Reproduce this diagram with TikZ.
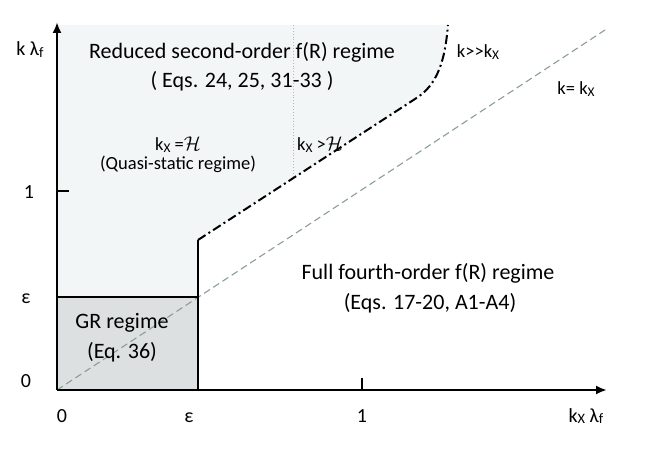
\documentclass[tikz,border=0pt]{standalone}
\usepackage{fontspec}
\setmainfont{Carlito}
\usetikzlibrary{arrows.meta}
\definecolor{lightfill}{RGB}{243,246,247}
\definecolor{grfill}{RGB}{220,224,224}
\definecolor{diaggray}{RGB}{140,156,156}
\newcommand\kxsub{k\raisebox{-0.18ex}{\scalebox{0.72}{X}}}
\newcommand\lamf{λ\raisebox{-0.18ex}{\scalebox{0.72}{f}}}
\newcommand\calH{\scalebox{1.15}{$\mathcal{H}$}}
\begin{document}
\begin{tikzpicture}[x=1pt,y=-1pt,
  axisline/.style={line width=2.2pt},
  bigtext/.style={font=\fontsize{22}{24}\selectfont, inner sep=0pt},
  midtext/.style={font=\fontsize{20}{22}\selectfont, inner sep=0pt, anchor=base},
  smalltext/.style={font=\fontsize{18.5}{20}\selectfont, inner sep=0pt},
  boundary/.style={line width=2pt, dash pattern=on 9pt off 3.5pt on 2pt off 3.5pt},
]
\useasboundingbox (0,0) rectangle (664,449);
% regions
\fill[lightfill] (57,25) -- (448,25) .. controls (445,60) and (438,85) .. (415,99) -- (198,240) -- (198,297) -- (57,297) -- cycle;
\fill[grfill] (57,297) rectangle (198,390);
% dotted separator
\draw[gray!55, line width=0.9pt, dotted] (293,25) -- (293,178);
% diagonal k = kx
\draw[diaggray, line width=1.1pt, dash pattern=on 7pt off 4pt] (57,390) -- (605,30);
% boundaries
\draw[axisline] (57,297) -- (198,297);
\draw[axisline] (198,390) -- (198,240);
\draw[boundary] (198,240) -- (415,99) .. controls (438,85) and (445,60) .. (448,25);
% axes
\coordinate (O) at (57,390);
\coordinate (xend) at (607,390);
\coordinate (yend) at (57,22);
\draw[axisline, -{Latex[length=11pt,width=9pt]}] (O) -- (xend);
\draw[axisline, -{Latex[length=11pt,width=9pt]}] (O) -- (yend);
\draw[line width=2pt] (57,191) -- (69,191);
\draw[line width=2pt] (362,390) -- (362,378);
% axis labels
\node[midtext] (ylab) at (30,56) {k \lamf};
\node[midtext] (y1) at (29,199) {1};
\node[midtext] (yeps) at (26,303) {ε};
\node[midtext] (y0) at (26,387) {0};
\node[midtext] (x0) at (62,422) {0};
\node[midtext] (xeps) at (189,422) {ε};
\node[midtext] (x1) at (362,422) {1};
\node[midtext] (xlab) at (586,422) {\kxsub{} \lamf};
% region texts
\node[bigtext] (red1) at (242,52) {Reduced second-order f(R) regime};
\node[bigtext] (red2) at (242,81) {( Eqs. 24, 25, 31-33 )};
\node[smalltext] (qs1) at (178,145) {\kxsub{} =\calH};
\node[smalltext] (qs2) at (178,164) {(Quasi-static regime)};
\node[smalltext] (kxh) at (320,145) {\kxsub{} >\calH};
\node[smalltext] (kgg) at (478,52) {k\mbox{>}\mbox{>}\kxsub};
\node[smalltext] (keq) at (576,89) {k= \kxsub};
\node[bigtext] (full1) at (428,273) {Full fourth-order f(R) regime};
\node[bigtext] (full2) at (430,303) {(Eqs. 17-20, A1-A4)};
\node[bigtext] (gr1) at (122,323) {GR regime};
\node[bigtext] (gr2) at (122,352) {(Eq. 36)};
\end{tikzpicture}
\end{document}
